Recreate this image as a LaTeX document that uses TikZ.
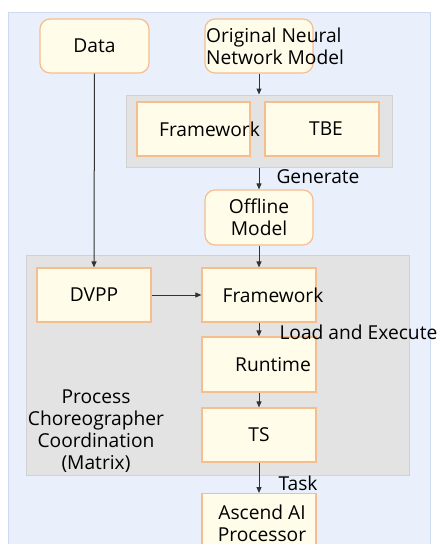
\documentclass[tikz,border=0pt]{standalone}
\usepackage{fontspec}
\setmainfont{Open Sans}
\usetikzlibrary{arrows.meta}
\definecolor{bgblue}{RGB}{233,240,251}
\definecolor{bgline}{RGB}{205,218,240}
\definecolor{boxfill}{RGB}{255,252,234}
\definecolor{boxline}{RGB}{246,190,142}
\definecolor{grpfill}{RGB}{227,227,227}
\definecolor{grpline}{RGB}{210,210,210}
\definecolor{arrgray}{RGB}{50,50,50}
\begin{document}
\begin{tikzpicture}[x=1pt, y=-1pt, font=\fontsize{19.2}{22}\selectfont,
	box/.style={draw=boxline, fill=boxfill, line width=1.2pt, minimum width=114pt, minimum height=54pt, inner sep=0pt, align=center},
	rbox/.style={box, rounded corners=10pt, minimum width=108pt},
	group/.style={draw=grpline, fill=grpfill, line width=1pt, inner sep=0pt},
	txt/.style={align=center, inner sep=0pt},
	arr/.style={draw=arrgray, line width=1pt, -{Triangle[length=6pt,width=5pt]}},
	lbl/.style={anchor=west, inner sep=0pt}]
	
	\useasboundingbox (0,0) rectangle (438,544);
	\path[fill=bgblue, draw=bgline, line width=1pt] (8,12) rectangle (430,550);
	
	\begin{scope}
	\clip (0,0) rectangle (438,544);
	
	\node[group, minimum width=266pt, minimum height=72pt] (grp1) at (259,131) {};
	\node[group, minimum width=383pt, minimum height=220pt] (grp2) at (217.5,365) {};
	
	\node[rbox, minimum width=109pt] (data) at (94.5,46) {Data};
	\node[rbox] (orig) at (259,46) {};
	\node[txt, anchor=west, align=left] (origt) at (206,46) {Original Neural\\Network Model};
	
	\node[box, minimum width=113pt] (fw1) at (193.5,129) {};
	\node[txt] (fw1t) at (209.5,129) {Framework};
	\node[box] (tbe) at (322,129) {};
	\node[txt] (tbet) at (326,129) {TBE};
	
	\node[rbox, minimum height=55pt] (offline) at (259,217.5) {Offline\\Model};
	
	\node[box] (dvpp) at (94,295) {DVPP};
	\node[box] (fw2) at (259,295) {};
	\node[txt] (fw2t) at (273,295) {Framework};
	\node[box, minimum height=55pt] (runtime) at (259,364.5) {};
	\node[txt] (runtimet) at (273,364.5) {Runtime};
	\node[box] (ts) at (259,435) {TS};
	\node[box, anchor=north, minimum height=70pt] (ascend) at (259,493) {};
	\node[txt] (ascendt) at (262,523) {Ascend AI\\Processor};
	
	\node[txt] (matrix) at (96,431) {Process\\Choreographer\\Coordination\\(Matrix)};
	
	\draw[arr] (data.south) -- (dvpp.north);
	\draw[arr] (orig.south) -- (grp1.north);
	\draw[arr] (grp1.south) -- (offline.north) node[lbl, pos=.4, xshift=17pt] (gen) {Generate};
	\draw[arr] (offline.south) -- (fw2.north);
	\draw[arr] (dvpp.east) -- (fw2.west);
	\draw[arr] (fw2.south) -- (runtime.north) node[lbl, pos=.67, xshift=20pt] (load) {Load and Execute};
	\draw[arr] (runtime.south) -- (ts.north);
	\draw[arr] (ts.south) -- (ascend.north) node[lbl, pos=.68, xshift=19pt] (task) {Task};
	\end{scope}
	
\end{tikzpicture}
\end{document}
